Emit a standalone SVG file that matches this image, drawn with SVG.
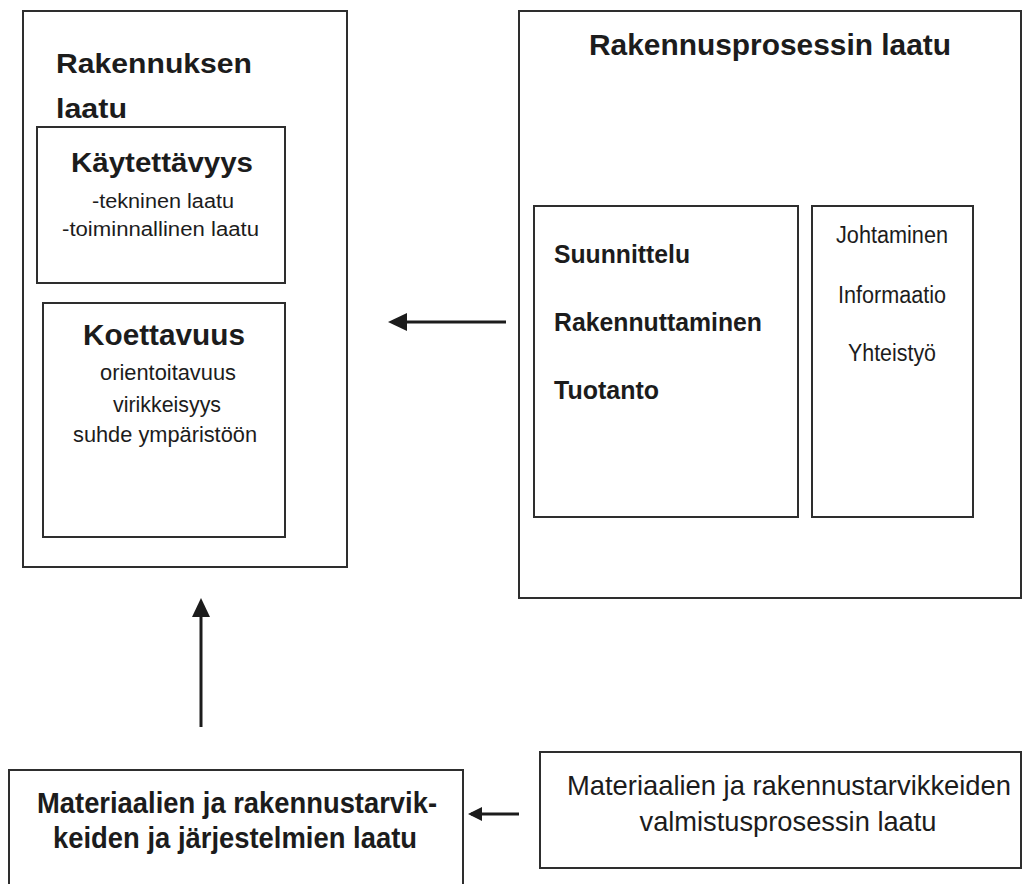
<svg xmlns="http://www.w3.org/2000/svg" width="1034" height="884" viewBox="0 0 1034 884">
  <style>
    .box { fill: #ffffff; stroke: #2e2e2e; stroke-width: 2; }
    .t { font-family: "Liberation Sans", Arial, sans-serif; fill: #1c1c1c; }
    .b { font-weight: bold; }
    .c { text-anchor: middle; }
    .conn { stroke: #1c1c1c; stroke-width: 3; fill: none; }
  </style>
  <defs>
    <marker id="ah" markerUnits="userSpaceOnUse" markerWidth="20" markerHeight="20" refX="15" refY="9" orient="auto">
      <path d="M0,0 L19,9 L0,18 z" fill="#1c1c1c"/>
    </marker>
    <marker id="ahs" markerUnits="userSpaceOnUse" markerWidth="16" markerHeight="16" refX="11" refY="7" orient="auto">
      <path d="M0,0 L14,7 L0,14 z" fill="#1c1c1c"/>
    </marker>
  </defs>
  <rect width="1034" height="884" fill="#ffffff"/>

  <g id="rakennuksen-laatu">
    <rect class="box" x="23" y="11" width="324" height="556"/>
    <text class="t b" x="56" y="73" font-size="28" textLength="196" lengthAdjust="spacingAndGlyphs">Rakennuksen</text>
    <text class="t b" x="56" y="118" font-size="28" textLength="71" lengthAdjust="spacingAndGlyphs">laatu</text>
  </g>

  <g id="kaytettavyys">
    <rect class="box" x="37" y="127" width="248" height="156"/>
    <text class="t b c" x="162" y="172" font-size="27" textLength="182" lengthAdjust="spacingAndGlyphs">Käytettävyys</text>
    <text class="t c" x="163" y="208" font-size="19.5" textLength="142" lengthAdjust="spacingAndGlyphs">-tekninen laatu</text>
    <text class="t c" x="160.5" y="236" font-size="19.5" textLength="197" lengthAdjust="spacingAndGlyphs">-toiminnallinen laatu</text>
  </g>

  <g id="koettavuus">
    <rect class="box" x="43" y="303" width="242" height="234"/>
    <text class="t b c" x="164" y="345" font-size="30" textLength="162" lengthAdjust="spacingAndGlyphs">Koettavuus</text>
    <text class="t c" x="168" y="380" font-size="22" textLength="136" lengthAdjust="spacingAndGlyphs">orientoitavuus</text>
    <text class="t c" x="167" y="412" font-size="22" textLength="108" lengthAdjust="spacingAndGlyphs">virikkeisyys</text>
    <text class="t c" x="165" y="442" font-size="22" textLength="184" lengthAdjust="spacingAndGlyphs">suhde ympäristöön</text>
  </g>

  <g id="rakennusprosessin-laatu">
    <rect class="box" x="519" y="11" width="502" height="587"/>
    <text class="t b c" x="770" y="55" font-size="30" textLength="362" lengthAdjust="spacingAndGlyphs">Rakennusprosessin laatu</text>
  </g>

  <g id="prosessit">
    <rect class="box" x="534" y="206" width="264" height="311"/>
    <text class="t b" x="554" y="263" font-size="25" textLength="136" lengthAdjust="spacingAndGlyphs">Suunnittelu</text>
    <text class="t b" x="554" y="331" font-size="25" textLength="208" lengthAdjust="spacingAndGlyphs">Rakennuttaminen</text>
    <text class="t b" x="554" y="399" font-size="25" textLength="105" lengthAdjust="spacingAndGlyphs">Tuotanto</text>
  </g>

  <g id="tukitoiminnot">
    <rect class="box" x="812" y="206" width="161" height="311"/>
    <text class="t c" x="892" y="243" font-size="23.5" textLength="112" lengthAdjust="spacingAndGlyphs">Johtaminen</text>
    <text class="t c" x="892" y="303" font-size="23.5" textLength="108" lengthAdjust="spacingAndGlyphs">Informaatio</text>
    <text class="t c" x="892" y="361" font-size="23.5" textLength="88" lengthAdjust="spacingAndGlyphs">Yhteistyö</text>
  </g>

  <g id="materiaalien-laatu">
    <rect class="box" x="9" y="770" width="454" height="124"/>
    <text class="t b c" x="237" y="813" font-size="30" textLength="400" lengthAdjust="spacingAndGlyphs">Materiaalien ja rakennustarvik-</text>
    <text class="t b c" x="235" y="848" font-size="30" textLength="364" lengthAdjust="spacingAndGlyphs">keiden ja järjestelmien laatu</text>
  </g>

  <g id="valmistusprosessin-laatu">
    <rect class="box" x="540" y="752" width="481" height="116"/>
    <text class="t c" x="789" y="795" font-size="27.5" textLength="444" lengthAdjust="spacingAndGlyphs">Materiaalien ja rakennustarvikkeiden</text>
    <text class="t c" x="788" y="831" font-size="27.5" textLength="297" lengthAdjust="spacingAndGlyphs">valmistusprosessin laatu</text>
  </g>

  <g id="connectors">
    <line class="conn" x1="506" y1="322" x2="392" y2="322" marker-end="url(#ah)"/>
    <line class="conn" x1="201" y1="727" x2="201" y2="602" marker-end="url(#ah)"/>
    <line class="conn" x1="519" y1="814" x2="471" y2="814" marker-end="url(#ahs)"/>
  </g>
</svg>
